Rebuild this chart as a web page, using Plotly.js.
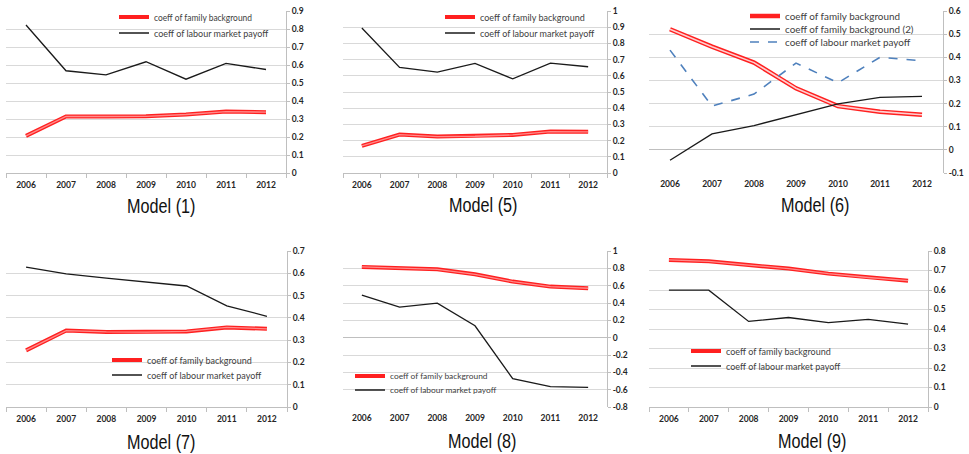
<!DOCTYPE html>
<html>
<head>
<meta charset="utf-8">
<script src="https://cdn.plot.ly/plotly-3.0.1.min.js"></script>
<style>html,body{margin:0;padding:0;background:#fff;}#chart{width:969px;height:454px;}</style>
</head>
<body>
<div id="chart"></div>
<script>
// ---- data ----
const years = [2006, 2007, 2008, 2009, 2010, 2011, 2012];
const yearLabels = ["2006", "2007", "2008", "2009", "2010", "2011", "2012"];

const m1Family = [0.206, 0.314, 0.314, 0.315, 0.325, 0.341, 0.338];
const m1Labour = [0.822, 0.568, 0.545, 0.618, 0.521, 0.609, 0.575];

const m5Family = [0.167, 0.237, 0.225, 0.227, 0.235, 0.256, 0.254];
const m5Labour = [0.895, 0.652, 0.623, 0.676, 0.581, 0.678, 0.656];

const m6Family = [0.521, 0.446, 0.377, 0.266, 0.189, 0.165, 0.152];
const m6Family2 = [-0.045, 0.069, 0.105, 0.152, 0.199, 0.227, 0.231];
const m6Labour = [0.431, 0.189, 0.241, 0.375, 0.290, 0.400, 0.385];

const m7Family = [0.254, 0.343, 0.337, 0.336, 0.339, 0.357, 0.351];
const m7Labour = [0.628, 0.597, 0.578, 0.560, 0.543, 0.454, 0.407];

const m8Family = [0.816, 0.804, 0.789, 0.731, 0.647, 0.589, 0.570];
const m8Labour = [0.490, 0.352, 0.398, 0.137, -0.474, -0.566, -0.573];

const m9Family = [0.754, 0.747, 0.728, 0.710, 0.684, 0.664, 0.648];
const m9Labour = [0.599, 0.599, 0.439, 0.459, 0.433, 0.449, 0.425];

const y1Ticks = [0, 0.1, 0.2, 0.3, 0.4, 0.5, 0.6, 0.7, 0.8, 0.9];
const y1Labels = ["0", "0.1", "0.2", "0.3", "0.4", "0.5", "0.6", "0.7", "0.8", "0.9"];
const y5Ticks = [0, 0.1, 0.2, 0.3, 0.4, 0.5, 0.6, 0.7, 0.8, 0.9, 1];
const y5Labels = ["0", "0.1", "0.2", "0.3", "0.4", "0.5", "0.6", "0.7", "0.8", "0.9", "1"];
const y6Ticks = [-0.1, 0, 0.1, 0.2, 0.3, 0.4, 0.5, 0.6];
const y6Labels = ["-0.1", "0", "0.1", "0.2", "0.3", "0.4", "0.5", "0.6"];
const y7Ticks = [0, 0.1, 0.2, 0.3, 0.4, 0.5, 0.6, 0.7];
const y7Labels = ["0", "0.1", "0.2", "0.3", "0.4", "0.5", "0.6", "0.7"];
const y8Ticks = [-0.8, -0.6, -0.4, -0.2, 0, 0.2, 0.4, 0.6, 0.8, 1];
const y8Labels = ["-0.8", "-0.6", "-0.4", "-0.2", "0", "0.2", "0.4", "0.6", "0.8", "1"];
const y9Ticks = [0, 0.1, 0.2, 0.3, 0.4, 0.5, 0.6, 0.7, 0.8];
const y9Labels = ["0", "0.1", "0.2", "0.3", "0.4", "0.5", "0.6", "0.7", "0.8"];

const nameFamily = "coeff of family background";
const nameFamily2 = "coeff of family background (2)";
const nameLabour = "coeff of labour market payoff";
const titles = ["Model (1)", "Model (5)", "Model (6)", "Model (7)", "Model (8)", "Model (9)"];

// ---- layout helpers ----
const W = 969, H = 454;
const px = v => v / W;
const py = v => 1 - v / H;

const tickFont = {family: "Lato, 'Open Sans', sans-serif", size: 8.5, color: "#262626", weight: "bold"};
const legFamily = "Lato, 'Open Sans', sans-serif";
const gridCol = "#d9d9d9", axCol = "#bfbfbf";
const bounds = years.map(y => y - 0.5).concat([years[years.length - 1] + 0.5]);

// panels: [left, right, top, bottom] in px
const panels = [
  {box: [6, 286, 11, 173], yt: y1Ticks, yl: y1Labels, zero: false, title: [161, 206], leg: 9},
  {box: [343, 607, 11, 173], yt: y5Ticks, yl: y5Labels, zero: false, title: [483, 205], leg: 9},
  {box: [649, 943, 11, 173], yt: y6Ticks, yl: y6Labels, zero: true, title: [815, 205], leg: 9.9},
  {box: [6, 287, 251, 407], yt: y7Ticks, yl: y7Labels, zero: false, title: [161, 442], leg: 9},
  {box: [343, 607, 251, 407], yt: y8Ticks, yl: y8Labels, zero: true, title: [482, 441], leg: 8.4},
  {box: [649, 928, 251, 407], yt: y9Ticks, yl: y9Labels, zero: false, title: [812, 441], leg: 9}
];

const layout = {
  width: W, height: H,
  margin: {l: 0, r: 0, t: 0, b: 0},
  paper_bgcolor: "#fff", plot_bgcolor: "#fff",
  showlegend: true,
  annotations: []
};

panels.forEach((p, i) => {
  const n = i + 1;
  const xs = n === 1 ? "" : String(n);
  const [l, r, t, b] = p.box;
  layout["xaxis" + xs] = {
    domain: [px(l), px(r)],
    range: [bounds[0], bounds[bounds.length - 1]],
    anchor: "y" + xs,
    tickmode: "array", tickvals: years, ticktext: yearLabels,
    ticks: "", showgrid: false, zeroline: false,
    showline: !p.zero, linecolor: axCol, linewidth: 1,
    tickfont: tickFont, ticklabelstandoff: 4,
    minor: p.zero ? undefined : {tickmode: "array", tickvals: bounds, ticks: "outside", ticklen: 4, tickcolor: axCol, showgrid: false},
    fixedrange: true
  };
  layout["yaxis" + xs] = {
    domain: [py(b), py(t)],
    range: [p.yt[0], p.yt[p.yt.length - 1]],
    anchor: "x" + xs, side: "right",
    tickmode: "array", tickvals: p.yt, ticktext: p.yl,
    showgrid: true, gridcolor: gridCol, gridwidth: 1,
    showline: true, linecolor: axCol, linewidth: 1,
    ticks: "outside", ticklen: 3, tickcolor: axCol,
    zeroline: p.zero, zerolinecolor: axCol, zerolinewidth: 1,
    tickfont: tickFont, fixedrange: true
  };
  layout.annotations.push({
    text: titles[i], xref: "paper", yref: "paper",
    x: px(p.title[0]), y: py(p.title[1]), xanchor: "center", yanchor: "middle",
    showarrow: false,
    font: {family: "'Liberation Sans Narrow', 'Arial Narrow', 'Liberation Sans', sans-serif", size: 20, color: "#111"}
  });
});

const traces = [];
let legCount = 0;
function addLegend(textX, centerY, size) {
  legCount++;
  const key = legCount === 1 ? "legend" : "legend" + legCount;
  layout[key] = {
    x: px(textX - 33), y: py(centerY), xanchor: "left", yanchor: "middle",
    bgcolor: "rgba(0,0,0,0)", borderwidth: 0,
    font: {family: legFamily, size: size, color: "#404040"},
    itemclick: false, itemdoubleclick: false
  };
  return key;
}
function axKey(axN) { return axN === 1 ? "" : String(axN); }
function redLine(axN, ys, lx, ly, wide) {
  const xs = axKey(axN);
  traces.push({x: years, y: ys, xaxis: "x" + xs, yaxis: "y" + xs, type: "scatter", mode: "lines",
    name: nameFamily, line: {color: "#ff2020", width: wide ? 4.5 : 4},
    legend: addLegend(lx, ly, panels[axN - 1].leg), hoverinfo: "skip"});
  traces.push({x: years, y: ys, xaxis: "x" + xs, yaxis: "y" + xs, type: "scatter", mode: "lines",
    showlegend: false, line: {color: wide ? "#ffd0d0" : "#ff8c8c", width: wide ? 1.6 : 1.3}, hoverinfo: "skip"});
}
function darkLine(axN, ys, name, lx, ly) {
  const xs = axKey(axN);
  traces.push({x: years, y: ys, xaxis: "x" + xs, yaxis: "y" + xs, type: "scatter", mode: "lines",
    name: name, line: {color: "#1a1a1a", width: 1.3},
    legend: addLegend(lx, ly, panels[axN - 1].leg), hoverinfo: "skip"});
}
function blueDash(axN, ys, name, lx, ly) {
  const xs = axKey(axN);
  traces.push({x: years, y: ys, xaxis: "x" + xs, yaxis: "y" + xs, type: "scatter", mode: "lines",
    name: name, line: {color: "#4f81bd", width: 1.6, dash: "dash"},
    legend: addLegend(lx, ly, panels[axN - 1].leg), hoverinfo: "skip"});
}

redLine(1, m1Family, 147, 17);
darkLine(1, m1Labour, nameLabour, 147, 33);

redLine(2, m5Family, 473, 17);
darkLine(2, m5Labour, nameLabour, 473, 33);

redLine(3, m6Family, 778, 16, true);
darkLine(3, m6Family2, nameFamily2, 778, 29);
blueDash(3, m6Labour, nameLabour, 778, 42);

redLine(4, m7Family, 140, 360);
darkLine(4, m7Labour, nameLabour, 140, 375);

redLine(5, m8Family, 383, 376);
darkLine(5, m8Labour, nameLabour, 383, 390);

redLine(6, m9Family, 719, 351);
darkLine(6, m9Labour, nameLabour, 719, 366);

Plotly.newPlot("chart", traces, layout, {displayModeBar: false, staticPlot: true}).then(gd => {
  // condense text to mimic the narrow fonts of the original
  const leg = gd.querySelectorAll("text.legendtext");
  let f = 0.8;
  leg.forEach(t => {
    if (t.textContent === nameFamily && f === 0.8) {
      const len = t.getComputedTextLength();
      if (len > 0) f = 98 / len;
    }
  });
  leg.forEach(t => {
    const len = t.getComputedTextLength();
    if (len > 0) { t.setAttribute("textLength", (len * f).toFixed(1)); t.setAttribute("lengthAdjust", "spacingAndGlyphs"); }
  });
  const ann = gd.querySelectorAll("text.annotation-text");
  ann.forEach(t => {
    const len = t.getComputedTextLength();
    if (len > 0) { t.setAttribute("textLength", (len * 0.81).toFixed(1)); t.setAttribute("lengthAdjust", "spacingAndGlyphs"); }
  });
});
</script>
</body>
</html>
